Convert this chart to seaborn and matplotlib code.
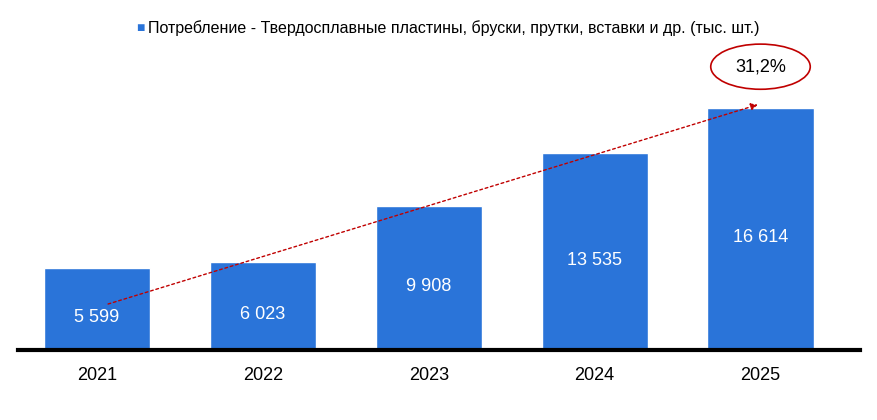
import matplotlib
matplotlib.use("Agg")
import matplotlib.pyplot as plt
import seaborn as sns
import pandas as pd
from matplotlib.patches import Ellipse

years = ["2021", "2022", "2023", "2024", "2025"]
values = [5599, 6023, 9908, 13535, 16614]
labels = ["5 599", "6 023", "9 908", "13 535", "16 614"]
growth = "31,2%"
legend_text = "Потребление - Твердосплавные пластины, бруски, прутки, вставки и др. (тыс. шт.)"

sns.set_style("white")
plt.rcParams['font.family'] = ['Liberation Sans', 'DejaVu Sans']
plt.rcParams['text.color'] = 'black'
plt.rcParams['xtick.color'] = 'black'

df = pd.DataFrame({"year": years, "value": values})
fig = plt.figure(figsize=(8.77, 4.2), dpi=100)
ax = fig.add_axes([18 / 877, 70 / 420, 842 / 877, 290 / 420])
sns.barplot(data=df, x="year", y="value", color="#2a74d9", saturation=1, width=0.64, ax=ax)
ax.set_ylim(0, 16614 * 290 / 242)
ax.set_xlim(-0.477, 4.60)
for i, (v, t) in enumerate(zip(values, labels)):
    ax.text(i, v / 2 - 600, t, ha="center", va="center", color="white", fontsize=13)
for s in ["top", "right", "left"]:
    ax.spines[s].set_visible(False)
ax.spines["bottom"].set_linewidth(3)
ax.spines["bottom"].set_color("black")
ax.set_yticks([])
ax.set_xlabel("")
ax.set_ylabel("")
ax.tick_params(axis="x", labelsize=13, length=0, pad=12)

ax.annotate("", xy=(4.0, 16900), xytext=(0.05, 3100),
            arrowprops=dict(arrowstyle="-|>", color="#c00000", linestyle=(0, (2, 2)), lw=1))
ax.text(4.0, 19450, growth, ha="center", va="center", fontsize=13, clip_on=False)
ax.add_patch(Ellipse((4.0, 19450), 0.6, 3100, fill=False, edgecolor="#c00000", lw=1.2, clip_on=False))

fig.text(136 / 877, 1 - 28 / 420, "■", color="#2a74d9", fontsize=10, va="center")
fig.text(148 / 877, 1 - 28 / 420, legend_text, fontsize=11.5, va="center")
fig.savefig("out.png", dpi=100)
